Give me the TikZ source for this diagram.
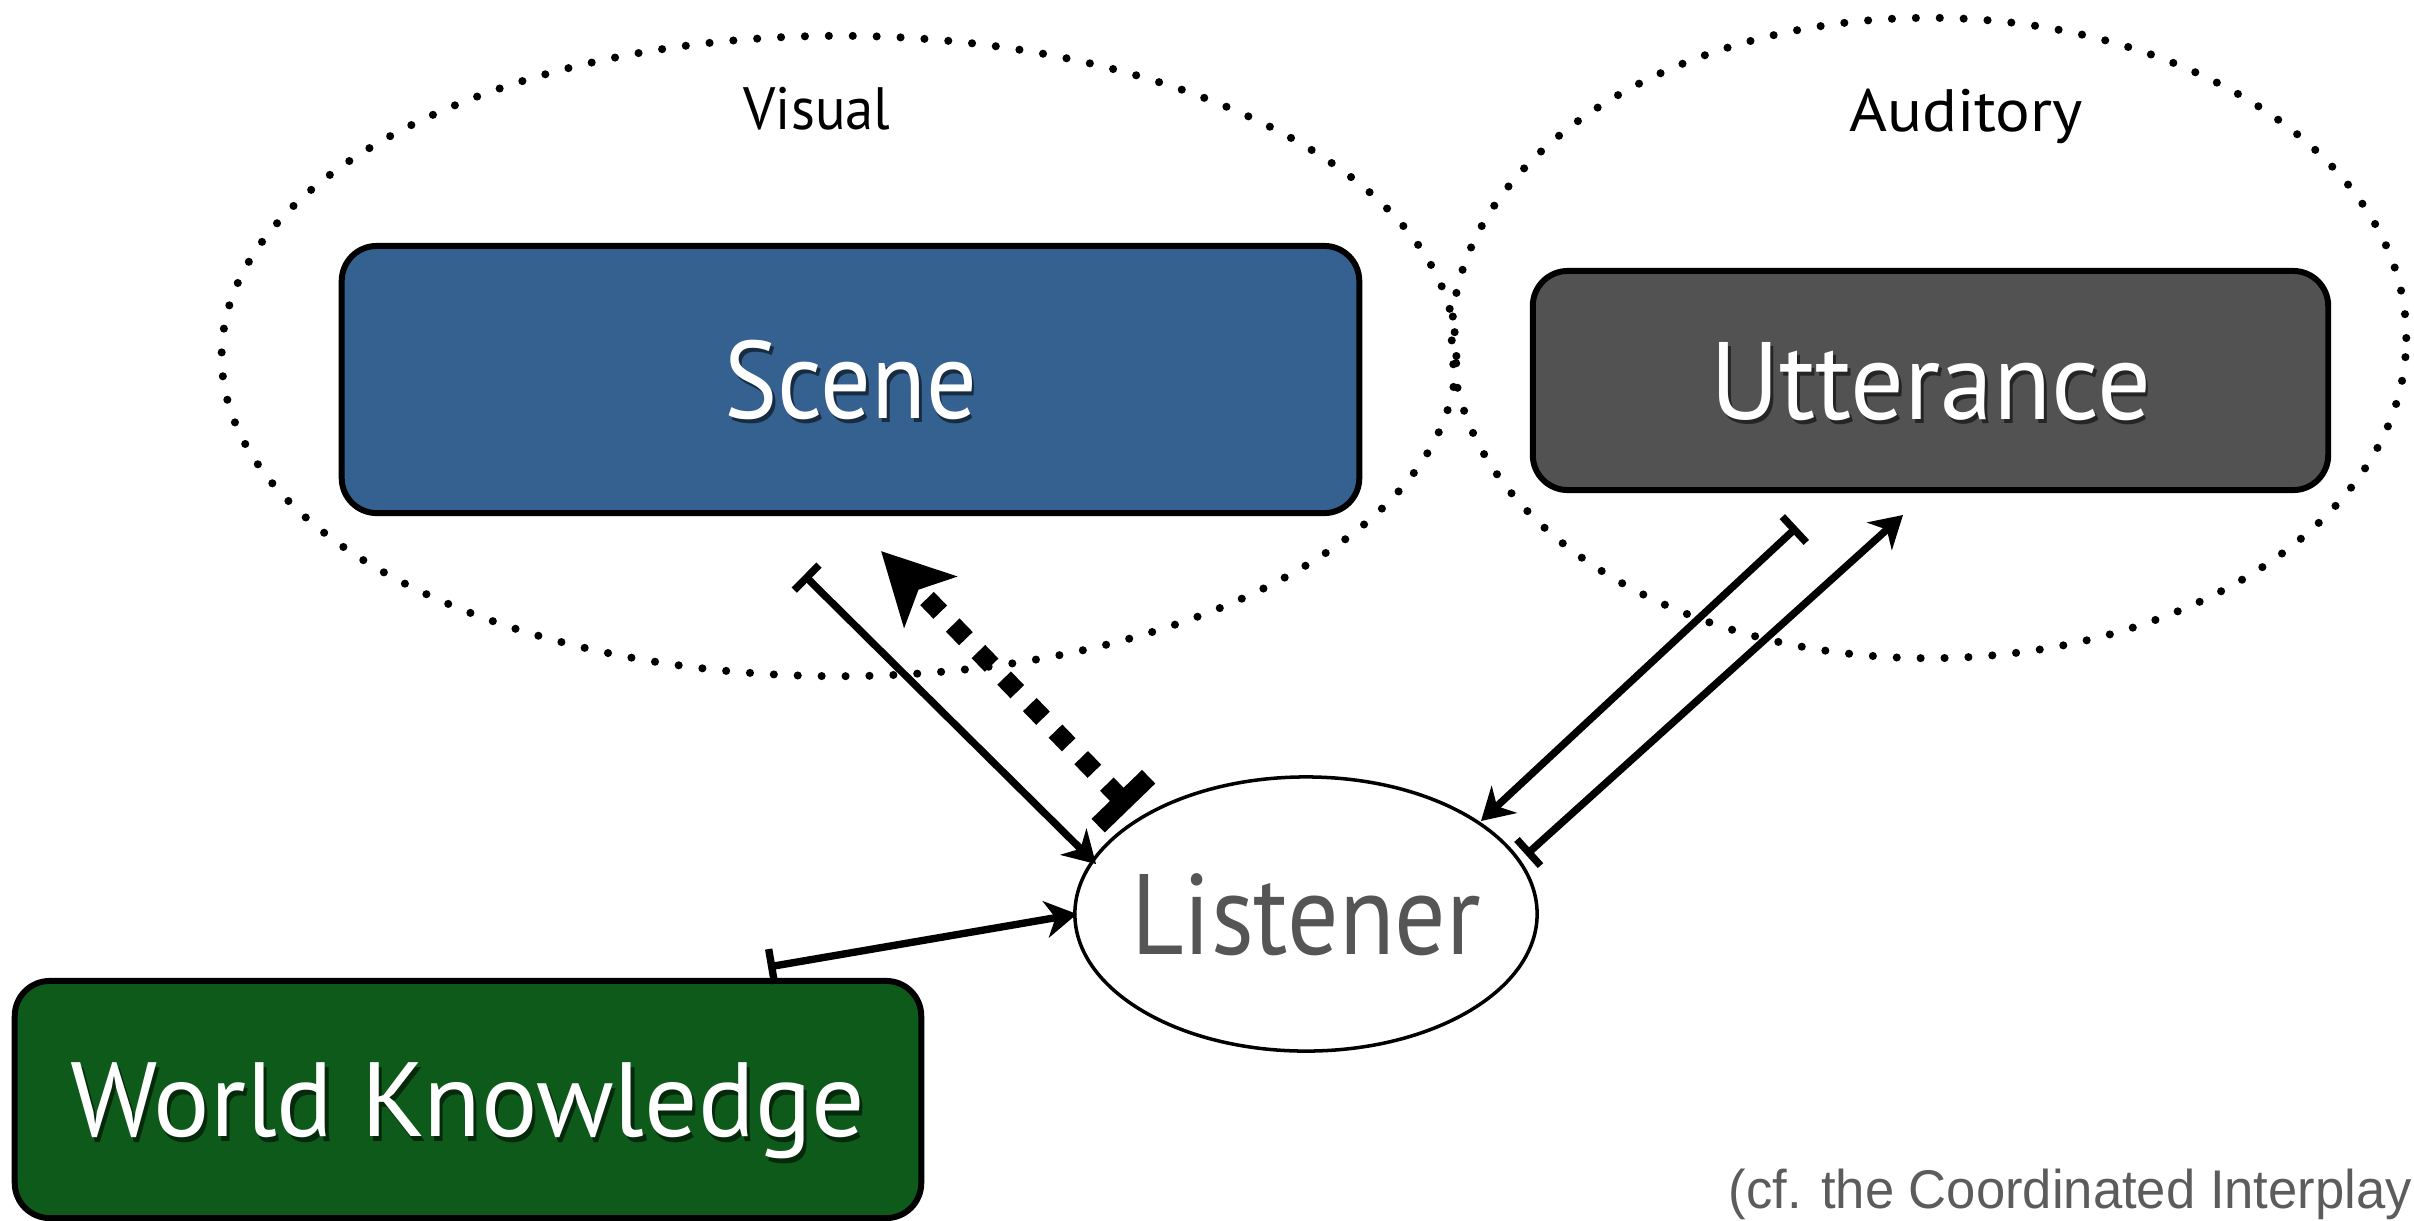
\documentclass[tikz,border=0pt]{standalone}
\usepackage{fontspec}
\setmainfont{PT Sans}
\newfontfamily\notefont{Liberation Sans}
\usetikzlibrary{arrows.meta,shapes.geometric}
\definecolor{sceneblue}{RGB}{52,97,144}
\definecolor{uttgray}{RGB}{82,82,82}
\definecolor{worldgreen}{RGB}{14,90,27}
\definecolor{listenergray}{RGB}{85,85,85}
\definecolor{notegray}{RGB}{92,92,92}
% white label text with a small darker drop shadow
\newcommand\shtext[2]{\leavevmode\rlap{\kern0.9pt\raisebox{-1.3pt}{\textcolor{#1}{#2}}}#2}
\begin{document}
\begin{tikzpicture}[x=0.01cm,y=-0.01cm,
  zone/.style={line width=2.3pt, dash pattern=on 0pt off 6.8pt, line cap=round},
  zonelabel/.style={anchor=base, inner sep=0pt, font=\fontsize{17}{20}\selectfont},
  block/.style={draw=black, line width=1.7pt, rounded corners=0.35cm, inner sep=0pt,
    text=white, text depth=0pt},
  link/.style={line width=2.1pt,
    {Bar[width=10pt]}-{Stealth[length=9pt,width=10.5pt,inset=2.8pt]}},
  bigdots/.style={line width=5.4pt, dash pattern=on 5.4pt off 5.1pt,
    {Bar[width=20pt]}-{Stealth[length=20pt,width=20.5pt,inset=4.7pt]}}
]
\useasboundingbox (0,0) rectangle (2414,1220);

% modality regions
\draw[zone] (839,356) ellipse [x radius=6.17cm, y radius=3.20cm];
\draw[zone] (1929,338) ellipse [x radius=4.77cm, y radius=3.20cm];
\node[zonelabel] (visual) at (817,129) {\scalebox{0.95}[1]{Visual}};
\node[zonelabel] (auditory) at (1966,131) {\scalebox{1.086}[1]{Auditory}};

% information sources
\node[block, fill=sceneblue, minimum width=10.17cm, minimum height=2.67cm,
  text height=21.9pt, font=\fontsize{31.3}{36}\selectfont]
  (scene) at (850.5,379.5) {\scalebox{0.91}[1]{\shtext{sceneblue!45!black}{Scene}}};
\node[block, fill=uttgray, minimum width=7.95cm, minimum height=2.19cm,
  text height=21.9pt, font=\fontsize{31.3}{36}\selectfont]
  (utterance) at (1930.5,380.5) {\scalebox{0.966}[1]{\shtext{uttgray!45!black}{Utterance}}};
\node[block, fill=worldgreen, minimum width=9.06cm, minimum height=2.37cm,
  text height=21.05pt, font=\fontsize{30}{36}\selectfont]
  (world) at (468,1099.5) {\shtext{worldgreen!45!black}{World Knowledge}};

% the listener (text set in a zero-width box so it does not widen the ellipse)
\node[ellipse, draw=black, line width=1pt, minimum width=4.62cm, minimum height=2.74cm,
  inner sep=0pt, text=listenergray, text height=22.76pt, text depth=0pt,
  font=\fontsize{32.5}{38}\selectfont]
  (listener) at (1306,914) {\makebox[0pt][c]{\scalebox{0.89}[1]{Listener}}};

% connector end points
\coordinate (sceneOut) at (804,575);
\coordinate (lisFromScene) at (1096,864);
\coordinate (lisGaze) at (1130,808);
\coordinate (sceneGaze) at (881,551);
\coordinate (uttOut) at (1797,527);
\coordinate (lisFromUtt) at (1481,821);
\coordinate (lisOut) at (1526,855);
\coordinate (uttIn) at (1903,515);
\coordinate (worldOut) at (768,967);
\coordinate (lisFromWorld) at (1077,914);

% connectors
\draw[link] (sceneOut) -- (lisFromScene);
\draw[bigdots] (lisGaze) -- (sceneGaze);
\draw[link] (uttOut) -- (lisFromUtt);
\draw[link] (lisOut) -- (uttIn);
\draw[link] (worldOut) -- (lisFromWorld);

% reference note
\node[anchor=base west, inner sep=0pt, text=notegray,
  font=\notefont\fontsize{15.5}{18}\selectfont]
  (note) at (1728,1208) {\scalebox{0.965}[1]{(cf. the Coordinated Interplay}};
\end{tikzpicture}
\end{document}
